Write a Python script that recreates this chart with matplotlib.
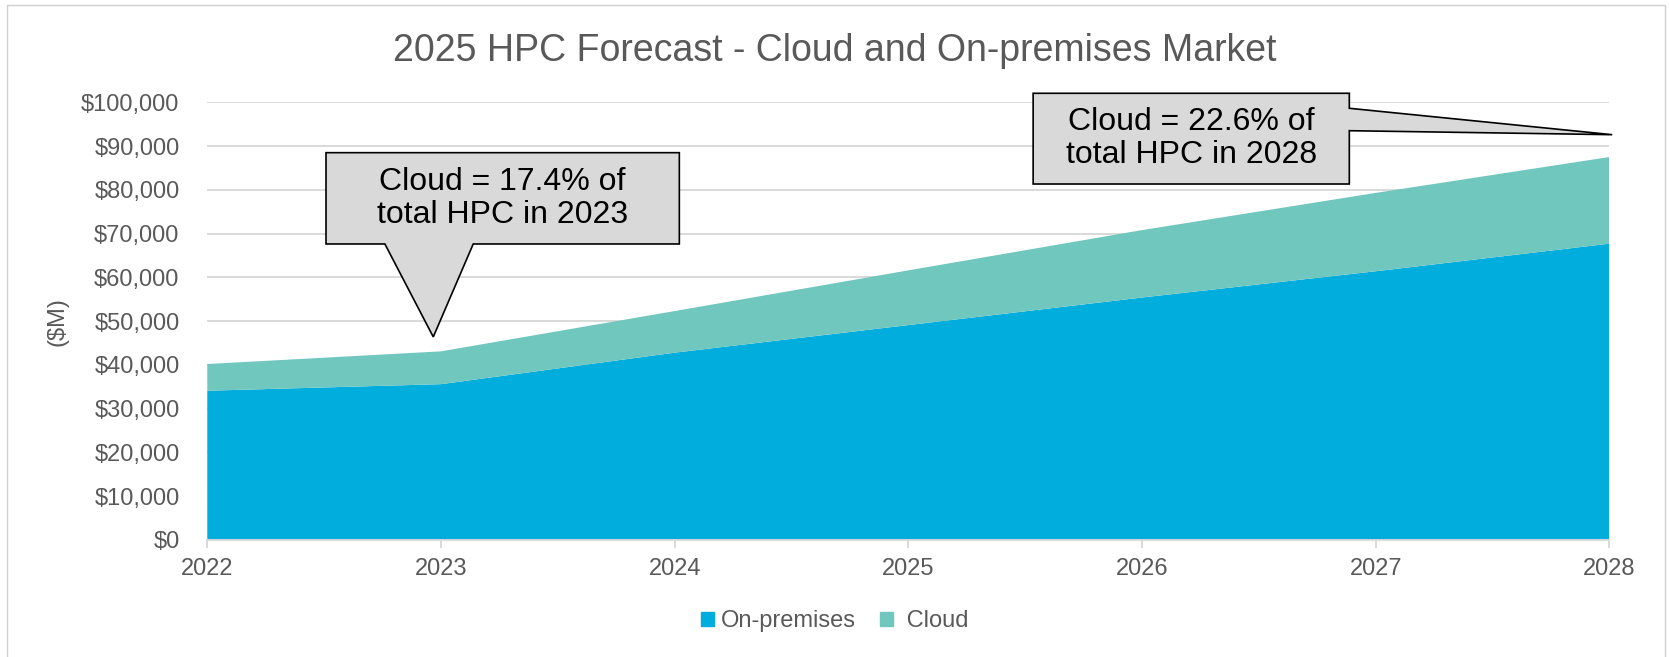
import matplotlib.pyplot as plt
from matplotlib.patches import Polygon, Patch, Rectangle
from matplotlib.ticker import FuncFormatter

# HPC market, $M
years = [2022, 2023, 2024, 2025, 2026, 2027, 2028]
on_premises = [34100, 35600, 42800, 49100, 55400, 61400, 67700]
cloud = [6100, 7500, 9500, 12500, 15400, 17900, 19800]
y_ticks = list(range(0, 100001, 10000))

total = [a + b for a, b in zip(on_premises, cloud)]
share_2023 = cloud[1] / total[1] * 100
share_2028 = cloud[-1] / total[-1] * 100

blue = '#00ADDC'
teal = '#6FC7BE'
grey_text = '#595959'
grid_col = '#d9d9d9'

plt.rcParams['font.family'] = ['Liberation Sans', 'DejaVu Sans']

fig = plt.figure(figsize=(16.69, 6.57), dpi=100)
ax = fig.add_axes([0.1242, 0.1781, 0.8401, 0.6662])

ax.stackplot(years, on_premises, cloud, colors=[blue, teal], linewidth=0, zorder=2)

ax.set_xlim(years[0], years[-1])
ax.set_ylim(0, 100000)
ax.set_xticks(years)
ax.set_yticks(y_ticks)
ax.yaxis.set_major_formatter(FuncFormatter(lambda v, p: '${:,.0f}'.format(v)))
ax.grid(axis='y', color=grid_col, linewidth=1.4)
ax.set_axisbelow(True)
for s in ['top', 'right', 'left']:
    ax.spines[s].set_visible(False)
ax.spines['bottom'].set_color(grid_col)
ax.spines['bottom'].set_linewidth(1.4)
ax.spines['bottom'].set_zorder(3)
ax.tick_params(axis='y', length=0, pad=20, labelsize=17, labelcolor=grey_text)
ax.tick_params(axis='x', length=5.8, width=1.4, color=grid_col, pad=7,
               labelsize=17, labelcolor=grey_text)

fig.text(0.5, 1 - 61 / 657, '2025 HPC Forecast - Cloud and On-premises Market',
         ha='center', va='baseline', fontsize=27, color=grey_text)
fig.text(58 / 1669, 1 - 322 / 657, '($M)', rotation=90, ha='center', va='center',
         fontsize=17, color=grey_text)

# callout for 2023, pointer comes down from the box bottom
x0, x1, y0, y1 = 2022.508, 2024.020, 67630, 88490
tip = (years[1] - 0.033, total[1] + 3300)
pts = [(x0, y1), (x1, y1), (x1, y0), (2023.138, y0), tip, (2022.760, y0), (x0, y0)]
ax.add_patch(Polygon(pts, closed=True, facecolor='#d9d9d9', edgecolor='black',
                     linewidth=1.2, joinstyle='miter', zorder=5, clip_on=False))
ax.text((x0 + x1) / 2, (y0 + y1) / 2, 'Cloud = {:.1f}% of\ntotal HPC in 2023'.format(share_2023),
        ha='center', va='center', fontsize=23, linespacing=1.12, color='black', zorder=6)

# callout for 2028, pointer goes right from the box side
x0, x1, y0, y1 = 2025.534, 2026.887, 81330, 102060
tip = (years[-1] + 0.012, total[-1] + 5100)
pts = [(x0, y1), (x1, y1), (x1, 98630), tip, (x1, 93510), (x1, y0), (x0, y0)]
ax.add_patch(Polygon(pts, closed=True, facecolor='#d9d9d9', edgecolor='black',
                     linewidth=1.2, joinstyle='miter', zorder=5, clip_on=False))
ax.text((x0 + x1) / 2, (y0 + y1) / 2, 'Cloud = {:.1f}% of\ntotal HPC in 2028'.format(share_2028),
        ha='center', va='center', fontsize=23, linespacing=1.12, color='black', zorder=6)

handles = [Patch(color=blue, label='On-premises'), Patch(color=teal, label=' Cloud')]
fig.legend(handles=handles, loc='center', bbox_to_anchor=(0.5, 0.0548), ncol=2,
           frameon=False, fontsize=17, labelcolor=grey_text, handlelength=0.55,
           handleheight=0.55, handletextpad=0.3, columnspacing=1.0)

# thin frame round the chart
fig.patches.append(Rectangle((7 / 1669, -0.1), 1658 / 1669, 1.1 - 5 / 657,
                             transform=fig.transFigure, fill=False,
                             edgecolor='#d0d0d0', linewidth=1.0))

fig.savefig('out.png', dpi=100)
